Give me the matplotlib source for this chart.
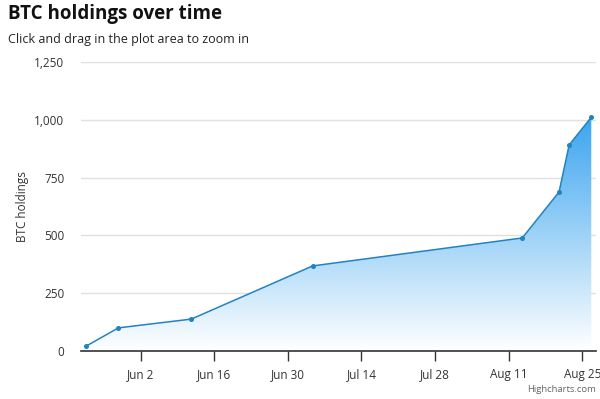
import matplotlib
matplotlib.use("Agg")
import matplotlib.pyplot as plt
import matplotlib.dates as mdates
import numpy as np
from matplotlib.colors import LinearSegmentedColormap

dates = ["2021-05-22T13:00", "2021-05-28T18:00", "2021-06-11T15:00", "2021-07-04T17:00",
         "2021-08-13T14:00", "2021-08-20T14:00", "2021-08-22T12:00", "2021-08-26T17:00"]
holdings = [20, 100, 138, 368, 489, 688, 891, 1011]
tick_dates = ["2021-06-02", "2021-06-16", "2021-06-30", "2021-07-14",
              "2021-07-28", "2021-08-11", "2021-08-25"]
tick_labels = ["Jun 2", "Jun 16", "Jun 30", "Jul 14", "Jul 28", "Aug 11", "Aug 25"]
y_ticks = [0, 250, 500, 750, 1000, 1250]
y_labels = ["0", "250", "500", "750", "1,000", "1,250"]

plt.rcParams['font.family'] = ['Open Sans', 'DejaVu Sans']

x = mdates.date2num(np.array(dates, dtype="datetime64[m]").astype(object))
xt = mdates.date2num(np.array(tick_dates, dtype="datetime64[D]").astype(object))
y = np.array(holdings, dtype=float)

fig = plt.figure(figsize=(6.0, 3.99), dpi=100)
ax = fig.add_axes([81/600, 48/399, 515/600, 289/399])

pad = 0.9
ax.set_xlim(x[0] - pad, x[-1] + pad)
ax.set_ylim(0, 1250)

# gradient fill
poly = ax.fill_between(x, y, 0, color="none", lw=0)
cmap = LinearSegmentedColormap.from_list("g", ["#ffffff", "#3ba5ef"])
grad = np.linspace(0, 1, 256).reshape(-1, 1)
im = ax.imshow(grad, cmap=cmap, aspect="auto", origin="lower",
               extent=[x[0], x[-1], 0, y.max()], zorder=1)
path = poly.get_paths()[0]
im.set_clip_path(path, transform=ax.transData)

ax.plot(x, y, color="#2283c2", lw=1.1, zorder=3)
ax.plot(x, y, "o", color="#2283c2", ms=2.6, zorder=4)

ax.set_yticks(y_ticks)
ax.set_yticklabels(y_labels)
ax.set_xticks(xt)
ax.set_xticklabels(tick_labels)
ax.grid(axis="y", color="#e0e0e0", lw=1, zorder=0)
ax.set_axisbelow(True)
for s in ["top", "right", "left"]:
    ax.spines[s].set_visible(False)
ax.spines["bottom"].set_color("#333333")
ax.spines["bottom"].set_linewidth(1.2)
ax.tick_params(axis="y", length=0, pad=12, labelsize=8.5, labelcolor="#333333")
ax.tick_params(axis="x", length=7, width=1, color="#333333", pad=5, labelsize=8.5, labelcolor="#333333")
ax.set_ylabel("BTC holdings", fontsize=8.5, color="#333333", labelpad=4)

fig.text(8/600, 1 - 14/399, "BTC holdings over time", fontsize=13.5, fontweight="bold",
         color="#111111", va="center", ha="left")
fig.text(8/600, 1 - 40/399, "Click and drag in the plot area to zoom in", fontsize=9,
         color="#222222", va="center", ha="left")
fig.text(596/600, 1 - 390/399, "Highcharts.com", fontsize=6.8, color="#666666",
         va="center", ha="right")

fig.savefig("out.png", dpi=100)
